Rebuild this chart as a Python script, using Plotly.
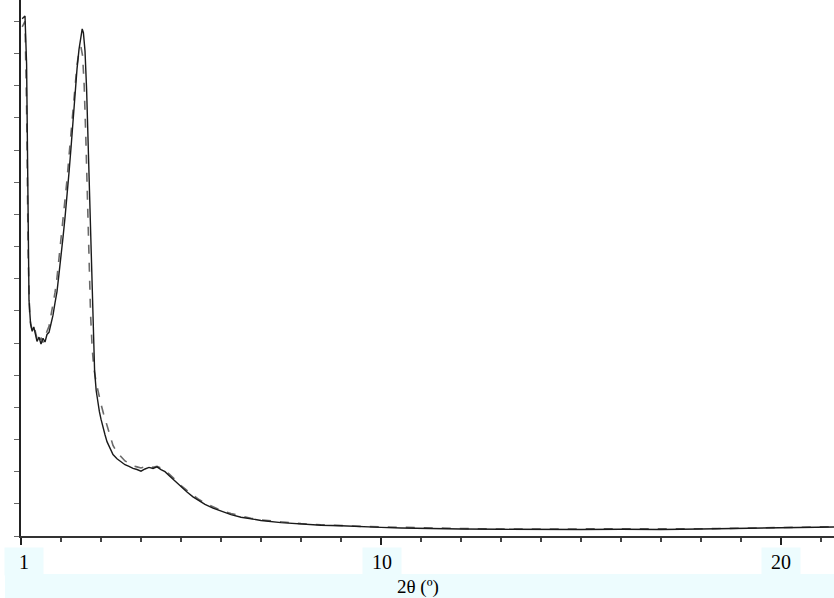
import plotly.graph_objects as go

# Diffraction scans: 2-theta (degrees) vs intensity (arbitrary units)
two_theta_a = [1.03, 1.10, 1.14, 1.17, 1.20, 1.24, 1.28, 1.32, 1.36, 1.40, 1.45, 1.50, 1.55, 1.60,
               1.65, 1.70, 1.75, 1.80, 1.85, 1.90, 1.95, 2.00, 2.05, 2.10, 2.15, 2.20, 2.25, 2.30,
               2.35, 2.40, 2.45, 2.50, 2.53, 2.56, 2.60, 2.64, 2.68, 2.72, 2.76, 2.80, 2.84, 2.88,
               2.92, 2.96, 3.00, 3.05, 3.10, 3.15, 3.20, 3.25, 3.30, 3.40, 3.50, 3.60, 3.70, 3.80,
               3.90, 4.00, 4.10, 4.20, 4.30, 4.40, 4.50, 4.60, 4.70, 4.80, 4.90, 5.00, 5.15, 5.30,
               5.45, 5.60, 5.80, 6.00, 6.25, 6.50, 6.75, 7.00, 7.5, 8.0, 8.5, 9.0, 9.5, 10.0, 10.5,
               11, 12, 13, 14, 15, 16, 17, 18, 19, 20, 21, 21.4]
intensity_a = [96.5, 97.0, 88, 62, 44, 39.5, 38.2, 39.0, 37.4, 36.3, 37.1, 35.8, 36.9, 36.2,
               37.6, 38.0, 39.6, 41.2, 43.5, 45.6, 48.9, 51.8, 55.7, 59.4, 63.0, 67.8, 72.4, 77.9,
               82.6, 87.1, 90.8, 93.2, 94.6, 93.9, 90.5, 83.4, 72.8, 59.6, 47.3, 37.2, 30.8, 27.1,
               24.9, 23.2, 21.8, 20.1, 18.9, 17.6, 16.8, 15.9, 15.2, 14.4, 13.9, 13.3, 13.0, 12.6,
               12.4, 12.1, 12.5, 12.8, 12.6, 12.9, 12.4, 12.0, 11.3, 10.6, 9.8, 9.1, 8.2, 7.3,
               6.6, 5.9, 5.2, 4.6, 4.0, 3.5, 3.2, 2.9, 2.5, 2.2, 2.0, 1.9, 1.7, 1.6, 1.5,
               1.4, 1.3, 1.25, 1.2, 1.2, 1.25, 1.2, 1.3, 1.4, 1.5, 1.6, 1.7]

two_theta_b = [1.03, 1.10, 1.14, 1.18, 1.22, 1.26, 1.30, 1.35, 1.40, 1.45, 1.50, 1.55, 1.60, 1.65,
               1.70, 1.75, 1.80, 1.85, 1.90, 1.95, 2.00, 2.05, 2.10, 2.15, 2.20, 2.25, 2.30, 2.35,
               2.40, 2.45, 2.50, 2.54, 2.58, 2.62, 2.66, 2.70, 2.74, 2.78, 2.82, 2.88, 2.94, 3.00,
               3.06, 3.12, 3.18, 3.24, 3.30, 3.40, 3.50, 3.60, 3.70, 3.80, 3.90, 4.00, 4.10, 4.20,
               4.30, 4.40, 4.50, 4.60, 4.70, 4.80, 4.90, 5.00, 5.15, 5.30, 5.45, 5.60, 5.80, 6.00,
               6.25, 6.50, 6.75, 7.00, 7.5, 8.0, 8.5, 9.0, 9.5, 10.0, 10.5, 11, 12, 13, 14, 15,
               16, 17, 18, 19, 20, 21, 21.4]
intensity_b = [95, 96, 80, 52, 40.5, 38.8, 37.6, 38.4, 36.8, 35.9, 37.0, 36.1, 37.3, 38.2,
               39.1, 41.0, 42.8, 45.4, 48.2, 51.6, 55.0, 58.6, 62.5, 66.4, 70.9, 75.3, 79.8, 84.2,
               87.9, 90.3, 91.2, 89.6, 84.0, 74.5, 62.0, 50.3, 41.2, 35.0, 31.4, 28.6, 26.4, 24.6,
               22.9, 21.3, 19.6, 18.1, 16.9, 15.6, 14.7, 14.0, 13.6, 13.1, 12.9, 12.7, 12.9, 13.1,
               12.8, 13.0, 12.7, 12.2, 11.6, 10.9, 10.1, 9.4, 8.5, 7.6, 6.8, 6.1, 5.4, 4.8,
               4.2, 3.7, 3.3, 3.0, 2.6, 2.3, 2.1, 1.9, 1.8, 1.7, 1.6, 1.5, 1.4, 1.3, 1.3, 1.25,
               1.3, 1.3, 1.35, 1.45, 1.55, 1.65, 1.75]

x_tick_values = [1, 10, 20]
x_tick_labels = ["1", "10", "20"]
x_title = "2θ (º)"

band = "#edfcfe"
serif = "Liberation Serif, Times New Roman, serif"

fig = go.Figure()
fig.add_trace(go.Scatter(x=two_theta_b, y=intensity_b, mode="lines",
                         line=dict(color="#6a6a6a", width=1.6, dash="dash")))
fig.add_trace(go.Scatter(x=two_theta_a, y=intensity_a, mode="lines",
                         line=dict(color="#1a1a1a", width=1.4)))

fig.update_layout(
    width=834, height=598,
    margin=dict(l=21, r=0, t=0, b=62),
    paper_bgcolor="white", plot_bgcolor="white",
    showlegend=False,
    xaxis=dict(range=[1, 21.325], showgrid=False, zeroline=False,
               showline=True, linecolor="#333", linewidth=2,
               tickvals=x_tick_values, showticklabels=False,
               ticks="outside", ticklen=7, tickwidth=2, tickcolor="#222",
               minor=dict(dtick=1, tick0=0, ticks="outside", ticklen=4,
                          tickcolor="#444", tickwidth=1.5)),
    yaxis=dict(range=[0, 100], showgrid=False, zeroline=False,
               showline=True, linecolor="#222", linewidth=1.5,
               showticklabels=False, ticks="outside", ticklen=5,
               tick0=0, dtick=6, tickcolor="#666", tickwidth=1.2),
)

# Title band beneath the axis
fig.add_shape(type="rect", xref="paper", yref="paper",
              x0=-0.0197, x1=1.0, y0=-0.1157, y1=-0.0709,
              fillcolor=band, line=dict(width=0), layer="below")

# Tick labels on shaded boxes
shifts = {"1": 3, "10": 1, "20": 0}
for v, t in zip(x_tick_values, x_tick_labels):
    fig.add_annotation(x=v, xref="x", y=-0.0205, yref="paper",
                       yanchor="top", xanchor="center", xshift=shifts.get(t, 0),
                       text=t, showarrow=False, width=38, height=27,
                       borderpad=0, bgcolor=band,
                       font=dict(family=serif, size=20, color="black"))

fig.add_annotation(x=0.488, xref="paper", y=-0.095, yref="paper",
                   xanchor="center", yanchor="middle", text=x_title,
                   showarrow=False, font=dict(family=serif, size=19, color="black"))

fig.write_html("out.html", config={"displayModeBar": False})
